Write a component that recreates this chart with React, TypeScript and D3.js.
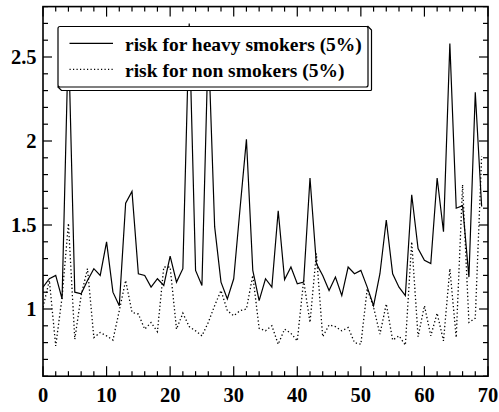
import React, { useRef, useEffect } from "react";
import * as d3 from "d3";

// relative risk per sample, x = 0..69
const heavySmokers = [
  1.13, 1.18, 1.2, 1.06, 2.62, 1.1, 1.09, 1.17, 1.24, 1.2,
  1.4, 1.1, 1.02, 1.63, 1.7, 1.21, 1.2, 1.13, 1.18, 1.14,
  1.315, 1.16, 1.24, 2.7, 1.23, 1.14, 2.6, 1.49, 1.16, 1.06,
  1.18, 1.6, 2.01, 1.23, 1.05, 1.18, 1.13, 1.585, 1.175, 1.25,
  1.15, 1.16, 1.78, 1.27, 1.2, 1.11, 1.19, 1.08, 1.25, 1.21,
  1.23, 1.13, 1.02, 1.21, 1.53, 1.21, 1.13, 1.08, 1.68, 1.36,
  1.29, 1.27, 1.78, 1.46, 2.58, 1.6, 1.615, 1.19, 2.29, 1.61,
];
const nonSmokers = [
  1.01, 1.17, 0.78, 1.07, 1.51, 0.82, 1.08, 1.24, 0.83, 0.86,
  0.84, 0.815, 0.99, 1.17, 0.98, 0.97, 0.88, 0.92, 0.865, 1.25,
  1.25, 0.88, 0.975, 0.895, 0.87, 0.84, 0.92, 1.02, 1.11, 0.99,
  0.96, 0.99, 1.0, 1.2, 0.885, 0.87, 0.9, 0.79, 0.88, 0.855,
  0.81, 1.17, 0.92, 1.33, 0.835, 0.905, 0.895, 0.87, 0.89, 0.8,
  0.79, 1.12, 1.01, 0.85, 1.03, 0.815, 0.84, 0.785, 1.4, 0.835,
  1.02, 0.84, 0.975, 0.81, 1.24, 0.83, 1.74, 0.92, 0.945, 1.91,
];
const seriesNames = ["risk for heavy smokers (5%)", "risk for non smokers (5%)"];
const xTickLabels = [0, 10, 20, 30, 40, 50, 60, 70];
const yTickLabels = [1, 1.5, 2, 2.5];

const FONT = "'Liberation Serif', 'Times New Roman', serif";

const App = () => {
  const ref = useRef<HTMLDivElement>(null);

  useEffect(() => {
    const W = 499;
    const H = 412;
    const left = 43;
    const right = 488;
    const top = 6.6;
    const bottom = 376.2;

    d3.select(ref.current).select("svg").remove();

    const svg = d3
      .select(ref.current)
      .append("svg")
      .attr("width", W)
      .attr("height", H)
      .style("position", "absolute")
      .style("left", "0px")
      .style("top", "0px")
      .style("background", "white");

    const x = d3.scaleLinear().domain([0, 70]).range([left, right]);
    const y = d3.scaleLinear().domain([0.6, 2.8]).range([bottom, top]);

    svg
      .append("clipPath")
      .attr("id", "plot-clip")
      .append("rect")
      .attr("x", left)
      .attr("y", top)
      .attr("width", right - left)
      .attr("height", bottom - top);

    const line = d3
      .line<number>()
      .x((d, i) => x(i))
      .y((d) => y(d));

    const g = svg.append("g").attr("clip-path", "url(#plot-clip)");

    g.append("path")
      .datum(nonSmokers)
      .attr("fill", "none")
      .attr("stroke", "black")
      .attr("stroke-width", 1.3)
      .attr("stroke-dasharray", "1.3 2.4")
      .attr("d", line);

    g.append("path")
      .datum(heavySmokers)
      .attr("fill", "none")
      .attr("stroke", "black")
      .attr("stroke-width", 1.2)
      .attr("d", line);

    // frame ticks, pointing inward on all four sides
    const xMinor = d3.range(0, 71, 2);
    const yMinor = d3.range(6, 29).map((v) => v / 10);
    const xLen = (v: number) => (v % 10 === 0 ? 10 : 5);
    const yLen = (v: number) => (Math.abs(v * 2 - Math.round(v * 2)) < 1e-6 ? 9 : 5);

    const ticks = svg.append("g").attr("stroke", "black").attr("stroke-width", 1.2);
    xMinor.forEach((v) => {
      ticks.append("line").attr("x1", x(v)).attr("x2", x(v)).attr("y1", bottom).attr("y2", bottom - xLen(v));
      ticks.append("line").attr("x1", x(v)).attr("x2", x(v)).attr("y1", top).attr("y2", top + xLen(v));
    });
    yMinor.forEach((v) => {
      ticks.append("line").attr("x1", left).attr("x2", left + yLen(v)).attr("y1", y(v)).attr("y2", y(v));
      ticks.append("line").attr("x1", right).attr("x2", right - yLen(v)).attr("y1", y(v)).attr("y2", y(v));
    });

    svg
      .append("rect")
      .attr("x", left)
      .attr("y", top)
      .attr("width", right - left)
      .attr("height", bottom - top)
      .attr("fill", "none")
      .attr("stroke", "black")
      .attr("stroke-width", 1.6);

    svg
      .append("g")
      .selectAll("text")
      .data(xTickLabels)
      .enter()
      .append("text")
      .attr("x", (d) => x(d))
      .attr("y", 402)
      .attr("text-anchor", "middle")
      .attr("font-family", FONT)
      .attr("font-weight", "bold")
      .attr("font-size", 20.5)
      .text((d) => d);

    svg
      .append("g")
      .selectAll("text")
      .data(yTickLabels)
      .enter()
      .append("text")
      .attr("x", 36.5)
      .attr("y", (d) => y(d))
      .attr("dy", "0.35em")
      .attr("text-anchor", "end")
      .attr("font-family", FONT)
      .attr("font-weight", "bold")
      .attr("font-size", 20.5)
      .text((d) => d);

    // legend: slab with a small bevel at right and bottom
    const lx0 = 58, ly0 = 26.5, lx1 = 368, ly1 = 87, dep = 3.5;
    const legend = svg.append("g");
    legend
      .append("path")
      .attr(
        "d",
        `M${lx1},${ly0} L${lx1 + dep},${ly0 + dep} L${lx1 + dep},${ly1 + dep - 1} Q${lx1 + dep},${ly1 + dep} ${lx1 + dep - 1},${ly1 + dep} L${lx0 + dep},${ly1 + dep} L${lx0},${ly1} Z`
      )
      .attr("fill", "white")
      .attr("stroke", "black")
      .attr("stroke-width", 1.2);
    legend
      .append("rect")
      .attr("x", lx0)
      .attr("y", ly0)
      .attr("width", lx1 - lx0)
      .attr("height", ly1 - ly0)
      .attr("rx", 2)
      .attr("fill", "white")
      .attr("stroke", "black")
      .attr("stroke-width", 1.2);

    seriesNames.forEach((name, i) => {
      const ly = 43.3 + i * 26;
      legend
        .append("line")
        .attr("x1", 69.5)
        .attr("x2", 113)
        .attr("y1", ly)
        .attr("y2", ly)
        .attr("stroke", "black")
        .attr("stroke-width", 1.2)
        .attr("stroke-dasharray", i === 1 ? "1.2 2.3" : null);
      legend
        .append("text")
        .attr("x", 125)
        .attr("y", ly + 8)
        .attr("font-family", FONT)
        .attr("font-weight", "bold")
        .attr("font-size", 19.5)
        .text(name);
    });
  }, []);

  return <div ref={ref}></div>;
};

export default App;
